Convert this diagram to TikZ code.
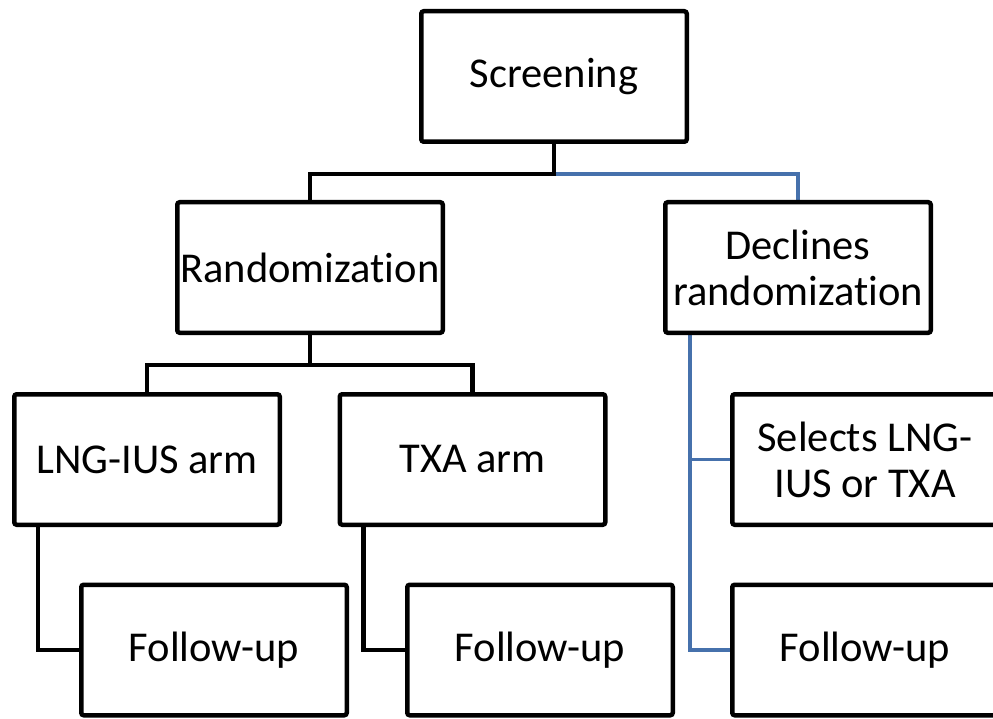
\documentclass[tikz,border=0pt]{standalone}
\usepackage{fontspec}
\setmainfont{Carlito}[Ligatures={NoCommon}]
\usetikzlibrary{calc,backgrounds}
\definecolor{linkblue}{RGB}{70,113,172}
\begin{document}
\begin{tikzpicture}[x=1pt,y=-1pt,
  box/.style={draw=black, line width=4.5pt, rounded corners=2.5pt, fill=white,
    minimum width=265.5pt, minimum height=130.5pt, inner sep=0pt, align=center,
    font=\fontsize{42.5}{46}\selectfont, text=black},
  blk/.style={draw=black, line width=4.5pt},
  blu/.style={draw=linkblue, line width=3.8pt}]
\useasboundingbox (0,0) rectangle (993,719);
\clip (0,0) rectangle (993,719);
\node[box] (scr) at (554,76.5) {Screening};
\node[box] (rnd) at (310,267.5) {Randomization};
\node[box] (dec) at (798,267.5) {Declines\\randomization};
\node[box] (lng) at (147,459.5) {LNG-IUS arm};
\node[box] (txa) at (472.5,459.5) {TXA arm};
\node[box] (sel) at (865,459.5) {Selects LNG-\\IUS or TXA};
\node[box] (fu1) at (214,650) {Follow-up};
\node[box] (fu2) at (540,650) {Follow-up};
\node[box] (fu3) at (865,650) {Follow-up};
\begin{scope}[on background layer]
  \path (scr.south) ++(0,30) coordinate (sj);
  \draw[blu] (sj) -| (dec.north);
  \draw[blk] (scr.south) -- (sj) -| (rnd.north);
  \path (rnd.south) ++(0,30) coordinate (rj);
  \draw[blk] (rnd.south) -- (rj) -| (lng.north);
  \draw[blk] (rj) -| (txa.north);
  \draw[blk] ($(lng.south west)+(26,0)$) |- (fu1.west);
  \draw[blk] ($(txa.south west)+(26,0)$) |- (fu2.west);
  \coordinate (dv) at ($(dec.south west)+(27,0)$);
  \draw[blu] (dv) |- (fu3.west);
  \draw[blu] (dv |- sel.west) -- (sel.west);
\end{scope}
\end{tikzpicture}
\end{document}
